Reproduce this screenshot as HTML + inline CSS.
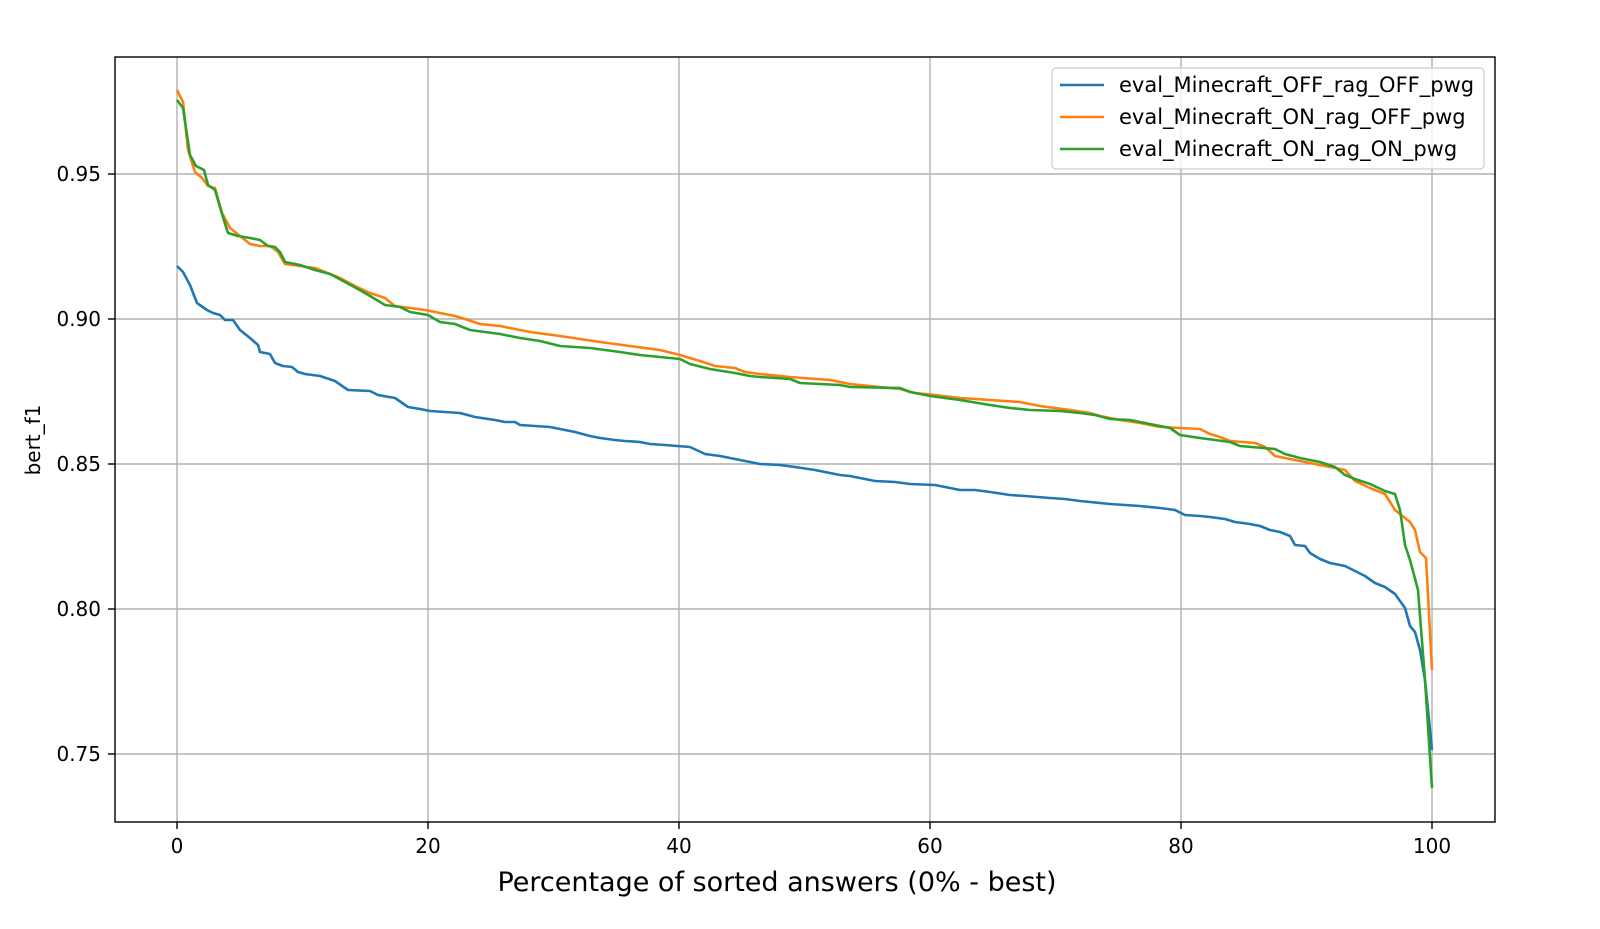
<!DOCTYPE html>
<html><head><meta charset="utf-8"><style>html,body{margin:0;padding:0;background:#fff}svg{display:block}text{font-family:"DejaVu Sans","Liberation Sans",sans-serif;fill:#000}</style></head>
<body>
<svg width="1600" height="929" viewBox="0 0 1600 929" xmlns="http://www.w3.org/2000/svg">
<rect width="1600" height="929" fill="#fff"/>
<g stroke="#b0b0b0" stroke-width="1.4">
<line x1="177" y1="57" x2="177" y2="822"/><line x1="428" y1="57" x2="428" y2="822"/><line x1="679" y1="57" x2="679" y2="822"/><line x1="930" y1="57" x2="930" y2="822"/><line x1="1181" y1="57" x2="1181" y2="822"/><line x1="1432" y1="57" x2="1432" y2="822"/>
<line x1="115" y1="174" x2="1495" y2="174"/><line x1="115" y1="319" x2="1495" y2="319"/><line x1="115" y1="464" x2="1495" y2="464"/><line x1="115" y1="609" x2="1495" y2="609"/><line x1="115" y1="754" x2="1495" y2="754"/>
</g>
<g fill="none" stroke-width="2.6" stroke-linejoin="round">
<polyline stroke="#1f77b4" points="177,266 183,272 190,285 197,303 207,310 213,313 220,315 225,320 233,320 240,330 250,338 258,345 260,352 270,354 275,363 283,366 292,367 298,372 305,374 320,376 335,381 348,390 370,391 378,395 395,398 408,407 420,409 430,411 445,412 460,413 475,417 495,420 505,422 515,422 520,425 535,426 550,427 560,429 575,432 590,436 600,438 615,440 625,441 640,442 650,444 665,445 690,447 705,454 720,456 735,459 750,462 760,464 780,465 795,467 815,470 825,472 840,475 850,476 860,478 875,481 895,482 910,484 935,485 945,487 960,490 975,490 990,492 1010,495 1025,496 1050,498 1065,499 1080,501 1090,502 1110,504 1125,505 1140,506 1160,508 1175,510 1185,515 1200,516 1210,517 1225,519 1235,522 1250,524 1260,526 1270,530 1280,532 1290,536 1295,545 1305,546 1310,553 1320,559 1330,563 1345,566 1355,571 1365,576 1375,583 1385,587 1395,594 1405,608 1410,626 1415,632 1420,650 1425,680 1432,750"/>
<polyline stroke="#ff7f0e" points="177,90 183,102 188,150 195,172 202,178 208,186 215,188 222,213 230,228 240,236 250,244 260,246 270,246 278,252 285,264 300,266 315,268 325,272 340,278 355,286 370,293 385,298 395,306 410,308 425,310 440,313 455,316 465,319 480,324 500,326 510,328 530,332 560,336 600,342 630,346 660,350 680,355 700,361 715,366 735,368 745,372 760,374 790,377 830,380 850,384 880,387 900,389 915,393 935,395 960,398 990,400 1020,402 1040,406 1070,410 1090,413 1100,416 1120,420 1140,423 1160,427 1200,429 1210,434 1220,437 1230,441 1255,443 1265,447 1275,456 1290,459 1300,461 1320,465 1345,470 1355,481 1370,488 1385,494 1395,510 1410,522 1415,530 1420,552 1426,558 1432,670"/>
<polyline stroke="#2ca02c" points="177,100 183,108 190,155 196,166 204,170 208,185 215,190 222,214 228,233 238,236 250,238 260,240 268,246 275,247 280,252 285,262 300,265 315,270 330,274 345,282 358,289 370,296 385,305 400,307 410,312 428,315 440,322 455,324 470,330 485,332 500,334 520,338 540,341 560,346 590,348 620,352 640,355 680,359 690,364 710,369 735,373 750,376 760,377 790,379 800,383 820,384 840,385 850,387 900,388 910,392 930,396 960,400 990,405 1010,408 1030,410 1060,411 1080,413 1095,415 1110,419 1130,420 1155,425 1170,428 1180,435 1200,438 1230,442 1240,446 1275,449 1285,454 1300,458 1320,462 1335,467 1345,475 1355,479 1370,484 1385,491 1395,494 1400,510 1405,545 1410,560 1418,590 1425,680 1432,788"/>
</g>
<rect x="115" y="57" width="1380" height="765" fill="none" stroke="#000" stroke-width="1.4"/>
<g stroke="#000" stroke-width="1.4">
<line x1="177" y1="822" x2="177" y2="829"/><line x1="428" y1="822" x2="428" y2="829"/><line x1="679" y1="822" x2="679" y2="829"/><line x1="930" y1="822" x2="930" y2="829"/><line x1="1181" y1="822" x2="1181" y2="829"/><line x1="1432" y1="822" x2="1432" y2="829"/>
<line x1="108" y1="174" x2="115" y2="174"/><line x1="108" y1="319" x2="115" y2="319"/><line x1="108" y1="464" x2="115" y2="464"/><line x1="108" y1="609" x2="115" y2="609"/><line x1="108" y1="754" x2="115" y2="754"/>
</g>
<g font-size="20" text-anchor="middle">
<text x="177" y="853">0</text><text x="428" y="853">20</text><text x="679" y="853">40</text><text x="930" y="853">60</text><text x="1181" y="853">80</text><text x="1432" y="853">100</text>
</g>
<g font-size="20" text-anchor="end">
<text x="101" y="181">0.95</text><text x="101" y="326">0.90</text><text x="101" y="471">0.85</text><text x="101" y="616">0.80</text><text x="101" y="761">0.75</text>
</g>
<text x="777" y="891" font-size="27" text-anchor="middle">Percentage of sorted answers (0% - best)</text>
<text transform="translate(40,440) rotate(-90)" font-size="20" text-anchor="middle">bert_f1</text>
<rect x="1052" y="68" width="432" height="101" rx="4" fill="#fff" fill-opacity="0.8" stroke="#ccc" stroke-width="1.2"/>
<g stroke-width="2.6"><line x1="1060" y1="85" x2="1104" y2="85" stroke="#1f77b4"/><line x1="1060" y1="117" x2="1104" y2="117" stroke="#ff7f0e"/><line x1="1060" y1="149" x2="1104" y2="149" stroke="#2ca02c"/></g>
<g font-size="21"><text x="1119" y="92">eval_Minecraft_OFF_rag_OFF_pwg</text><text x="1119" y="124">eval_Minecraft_ON_rag_OFF_pwg</text><text x="1119" y="156">eval_Minecraft_ON_rag_ON_pwg</text></g>
</svg>
</body></html>
